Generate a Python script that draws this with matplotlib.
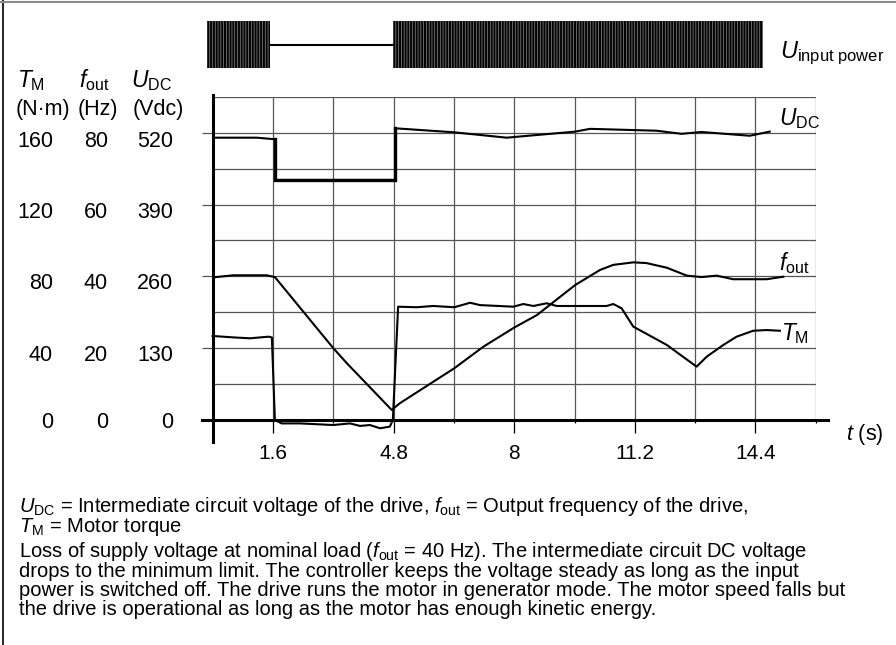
import matplotlib
matplotlib.use("Agg")
import matplotlib.pyplot as plt
from matplotlib.patches import Rectangle
from matplotlib.lines import Line2D
import numpy as np

plt.rcParams['font.family'] = ['Liberation Sans', 'DejaVu Sans']
plt.rcParams['mathtext.fontset'] = 'custom'
plt.rcParams['mathtext.rm'] = 'Liberation Sans'
plt.rcParams['mathtext.it'] = 'Liberation Sans:italic'
plt.rcParams['hatch.linewidth'] = 0.5

# supply state: (start, end) of the periods with input power on, in s
power_on = [(-0.15, 1.52), (4.78, 14.6)]
power_off = (1.52, 4.78)

# DC link voltage (Vdc)
udc_t = [0.0, 1.17, 1.57, 1.65, 1.65, 4.84, 4.84, 6.41, 7.80, 9.62, 10.01,
         11.78, 12.44, 12.97, 14.25, 14.43, 14.78]
udc_v = [511, 511, 508.6, 508.6, 434.5, 434.5, 528, 520.7, 511, 522, 527,
         523.6, 518, 521.3, 514.5, 517, 522]

# output frequency (Hz)
fout_t = [0.0, 0.55, 1.43, 1.65, 3.20, 3.56, 4.75, 4.97, 6.41, 7.18, 8.01,
          8.60, 9.62, 10.28, 10.63, 11.16, 11.51, 12.05, 12.58, 12.97, 13.37,
          13.81, 14.70, 15.14]
fout_v = [39.7, 40.3, 40.3, 39.8, 20.0, 15.8, 2.8, 4.7, 14.4, 20.4, 25.8,
          29.2, 37.6, 41.8, 43.2, 43.9, 43.7, 42.4, 40.2, 39.8, 40.2,
          39.2, 39.2, 39.9]

# motor torque (N·m)
tm_t = [0.0, 0.55, 0.99, 1.48, 1.57, 1.65, 1.83, 2.32, 3.20, 3.64, 3.91, 4.17,
        4.44, 4.70, 4.78, 4.92, 5.41, 5.85, 6.41, 6.83, 7.09, 7.98, 8.24, 8.51,
        8.86, 9.13, 10.45, 10.63, 10.85, 11.16, 12.05, 12.84, 13.11, 13.55,
        13.90, 14.34, 14.70, 15.05]
tm_v = [46.8, 46.0, 45.5, 46.4, 46.0, 0.0, -1.9, -1.9, -2.8, -1.9, -3.3, -2.8,
        -4.6, -3.7, 0.0, 63.1, 62.8, 63.5, 62.8, 65.3, 64.0, 63.1, 64.6, 63.5,
        65.0, 63.5, 63.5, 64.6, 62.2, 52.0, 41.8, 29.7, 35.3, 41.8,
        46.4, 49.7, 50.1, 49.7]

torque_ticks = [0, 40, 80, 120, 160]
freq_ticks = [0, 20, 40, 60, 80]
vdc_ticks = [0, 130, 260, 390, 520]
time_ticks = [1.6, 4.8, 8, 11.2, 14.4]
time_minor = [3.2, 6.4, 9.6, 12.8, 16]

# all curves share the torque scale: 80 Hz and 520 Vdc sit on 160 N·m
hz_scale = torque_ticks[-1] / freq_ticks[-1]
vdc_scale = torque_ticks[-1] / vdc_ticks[-1]

W, H = 896, 645
fig = plt.figure(figsize=(W / 100, H / 100), dpi=100)


def fx(x):
    return x / W


def fy(y):
    return 1 - y / H


ax = fig.add_axes([fx(212.7), fy(420), fx(815.7) - fx(212.7), fy(96.8) - fy(420)])
ax.set_xlim(0, 16)
ax.set_ylim(0, 180)
for s in ax.spines.values():
    s.set_visible(False)

# grid
grid_c = '#555555'
ax.vlines(time_minor + time_ticks, 0, 180, color=grid_c, lw=0.9, zorder=1)
ax.hlines([20, 40, 60, 80, 100, 120, 140, 160, 180], 0, 16.05, color=grid_c, lw=0.9, zorder=1)

# axes lines, drawn past the origin
ax.plot([0, 0], [-12, 181], color='black', lw=2.2, clip_on=False, zorder=3)
ax.plot([-0.29, 16.33], [0, 0], color='black', lw=2.2, clip_on=False, zorder=3)

ax.set_xticks(time_ticks)
ax.set_xticklabels([f'{v:g}' for v in time_ticks], fontsize=15)
ax.set_xticks(time_minor, minor=True)
ax.tick_params(axis='x', which='major', length=9.5, width=0.9, color='black', pad=8)
ax.tick_params(axis='x', which='minor', length=2.5, width=0.9, color='black')
ax.set_yticks(torque_ticks)
ax.set_yticklabels([])
ax.tick_params(axis='y', which='major', length=8, width=0.9, color=grid_c)

# curves
ax.plot(udc_t, np.array(udc_v) * vdc_scale, color='black', lw=1.5, zorder=4)
ax.plot(udc_t[3:7], np.array(udc_v[3:7]) * vdc_scale, color='black', lw=2.4,
        zorder=4, solid_joinstyle='miter')
ax.plot(fout_t, np.array(fout_v) * hz_scale, color='black', lw=1.5, zorder=4)
ax.plot(tm_t, tm_v, color='black', lw=1.5, zorder=4, clip_on=False)

ax.text(15.02, 164.3, r'$U_{\mathrm{DC}}$', fontsize=16.5, ha='left', va='baseline')
ax.text(15.02, 83.5, r'$f_{\mathrm{out}}$', fontsize=16.5, ha='left', va='baseline')
ax.text(15.07, 44.6, r'$T_{\mathrm{M}}$', fontsize=16.5, ha='left', va='baseline')

# scale columns on the left
lab_off = [3, 7, 7, 8, 9]
for i in range(len(torque_ticks)):
    y = fy(420 - torque_ticks[i] * (420 - 132.7) / 160 + lab_off[i])
    fig.text(fx(53), y, str(torque_ticks[i]), fontsize=15.5, ha='right', va='center')
    fig.text(fx(108), y, str(freq_ticks[i]), fontsize=15.5, ha='right', va='center')
    fig.text(fx(173), y, str(vdc_ticks[i]), fontsize=15.5, ha='right', va='center')

fig.text(fx(17), fy(87.3), r'$T_{\mathrm{M}}$', fontsize=16.5, va='baseline')
fig.text(fx(79), fy(87.3), r'$f_{\mathrm{out}}$', fontsize=16.5, va='baseline')
fig.text(fx(131), fy(87.3), r'$U_{\mathrm{DC}}$', fontsize=16.5, va='baseline')
fig.text(fx(16), fy(115), '(N·m)', fontsize=15.5, va='baseline')
fig.text(fx(78), fy(115), '(Hz)', fontsize=15.5, va='baseline')
fig.text(fx(133), fy(115), '(Vdc)', fontsize=15.5, va='baseline')

fig.text(fx(846), fy(440), r'$t$ (s)', fontsize=15.5, va='baseline')

# input power strip
ax_in = fig.add_axes([fx(212.7), fy(68), fx(815.7) - fx(212.7), fy(21) - fy(68)])
ax_in.set_xlim(0, 16)
ax_in.set_ylim(-1, 1)
ax_in.axis('off')
for t0, t1 in power_on:
    ax_in.add_patch(Rectangle((t0, -1), t1 - t0, 2, facecolor='#050505',
                              edgecolor='#8c8c8c', hatch='||||||', linewidth=0,
                              clip_on=False))
ax_in.plot(power_off, [0, 0], color='black', lw=1.5, clip_on=False)
fig.text(fx(780), fy(58), r'$U_{\mathrm{input\ power}}$', fontsize=17, va='baseline')

# caption
fig.text(fx(19), fy(512),
         r'$U_{\mathrm{DC}}$ = Intermediate circuit voltage of the drive, '
         r'$f_{\mathrm{out}}$ = Output frequency of the drive,',
         fontsize=14.5, va='baseline')
fig.text(fx(19), fy(532), r'$T_{\mathrm{M}}$ = Motor torque', fontsize=14.5, va='baseline')
para = ['Loss of supply voltage at nominal load ($f_{\\mathrm{out}}$ = 40 Hz). '
        'The intermediate circuit DC voltage',
        'drops to the minimum limit. The controller keeps the voltage steady as long as the input',
        'power is switched off. The drive runs the motor in generator mode. '
        'The motor speed falls but',
        'the drive is operational as long as the motor has enough kinetic energy.']
for i, line in enumerate(para):
    fig.text(fx(19), fy(557.3 + i * 19.3), line, fontsize=14.5, va='baseline')

# frame
fig.add_artist(Line2D([fx(2.5), fx(2.5)], [0, 1], color='black', lw=1.2))
fig.add_artist(Line2D([0, 1], [fy(1.5), fy(1.5)], color='#8a8a8a', lw=1.5))

fig.savefig('out.png', dpi=100)
